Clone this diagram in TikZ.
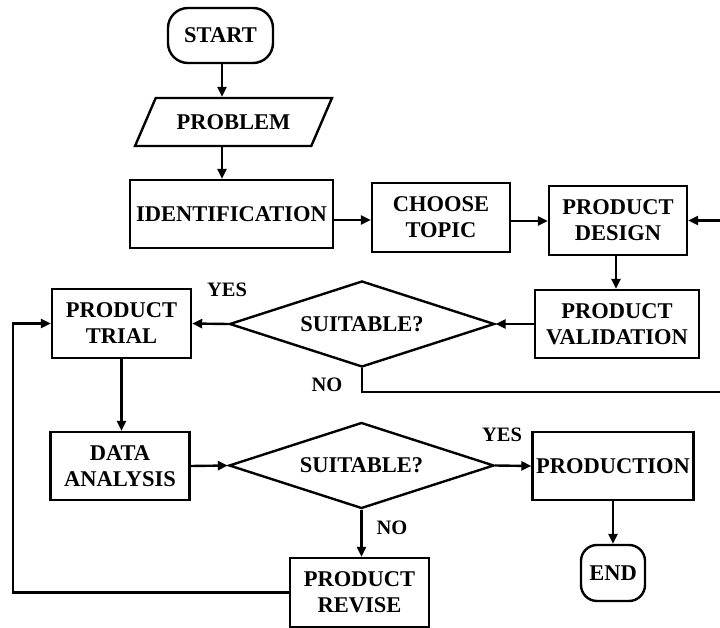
\documentclass[tikz,border=0pt]{standalone}
\usepackage{fontspec}
\setmainfont{Liberation Serif}
\usetikzlibrary{shapes.geometric,arrows.meta}
\begin{document}
\begin{tikzpicture}[x=1pt,y=-1pt,
  every node/.style={font=\fontsize{22.5}{26}\selectfont\bfseries, align=center, inner sep=0pt},
  box/.style={draw, line width=2.4pt, rectangle, minimum width=#1, minimum height=68pt},
  box/.default=139pt,
  term/.style={draw, line width=2.4pt, rectangle, rounded corners=#1},
  para/.style={draw, line width=2.4pt, trapezium, trapezium left angle=45, trapezium right angle=135, trapezium stretches=true, minimum width=197pt, minimum height=48pt},
  dia/.style={draw, line width=2.4pt, diamond, aspect=3.08, minimum width=265pt, minimum height=86pt},
  lbl/.style={font=\fontsize{20.5}{24}\selectfont\bfseries},
  arr/.style={line width=2.4pt, -{Triangle[length=10pt,width=9pt]}},
  ln/.style={line width=2.4pt}
]
\useasboundingbox (0,0) rectangle (720,628);
\node[term=20pt, minimum width=105pt, minimum height=55pt] (start) at (220.5,35.5) {START};
\node[para] (problem) at (233.5,122) {PROBLEM};
\node[box=203pt] (id) at (231.5,214) {IDENTIFICATION};
\node[box=138pt, minimum height=69pt] (choose) at (441,217.5) {CHOOSE\\TOPIC};
\node[box=138pt, minimum height=69pt] (design) at (618,220.5) {PRODUCT\\DESIGN};
\node[box=164pt] (valid) at (617,324) {PRODUCT\\VALIDATION};
\node[dia] (d1) at (362,324) {SUITABLE?};
\node[box=139pt, minimum height=69pt] (trial) at (121.5,323.5) {PRODUCT\\TRIAL};
\node[box=139pt] (data) at (120,466) {DATA\\ANALYSIS};
\node[dia] (d2) at (361.5,465.5) {SUITABLE?};
\node[box=161pt] (prod) at (613,466) {PRODUCTION};
\node[box=139pt, minimum height=69pt] (revise) at (359.5,592.5) {PRODUCT\\REVISE};
\node[term=16pt, minimum width=64pt, minimum height=56pt] (end) at (613,573) {END};
\node[lbl] (yes1) at (227,290) {YES};
\node[lbl] (no1) at (327,385) {NO};
\node[lbl] (yes2) at (502,435) {YES};
\node[lbl] (no2) at (392,528) {NO};
\coordinate (rc) at (723,392);
\coordinate (lc) at (13,460);
\draw[arr] (start.south -| 222,0) -- (problem.north -| 222,0);
\draw[arr] (problem.south -| 222,0) -- (id.north -| 222,0);
\draw[arr] (id.east |- 0,220) -- (choose.west |- 0,220);
\draw[arr] (choose.east |- 0,221) -- (design.west |- 0,221);
\draw[arr] (design.south -| 616,0) -- (valid.north -| 616,0);
\draw[arr] (valid.west) -- (d1.east);
\draw[arr] (d1.west) -- (trial.east);
\draw[arr] (d1.south) |- (rc) |- (design.east);
\draw[arr] (trial.south) -- (trial.south |- data.north);
\draw[arr] (data.east) -- (d2.west);
\draw[arr] (d2.east) -- (prod.west);
\draw[arr] (d2.south) -- (d2.south |- revise.north);
\draw[arr] (prod.south) -- (prod.south |- end.north);
\draw[arr] (revise.west) -| (lc) |- (trial.west);
\end{tikzpicture}
\end{document}
